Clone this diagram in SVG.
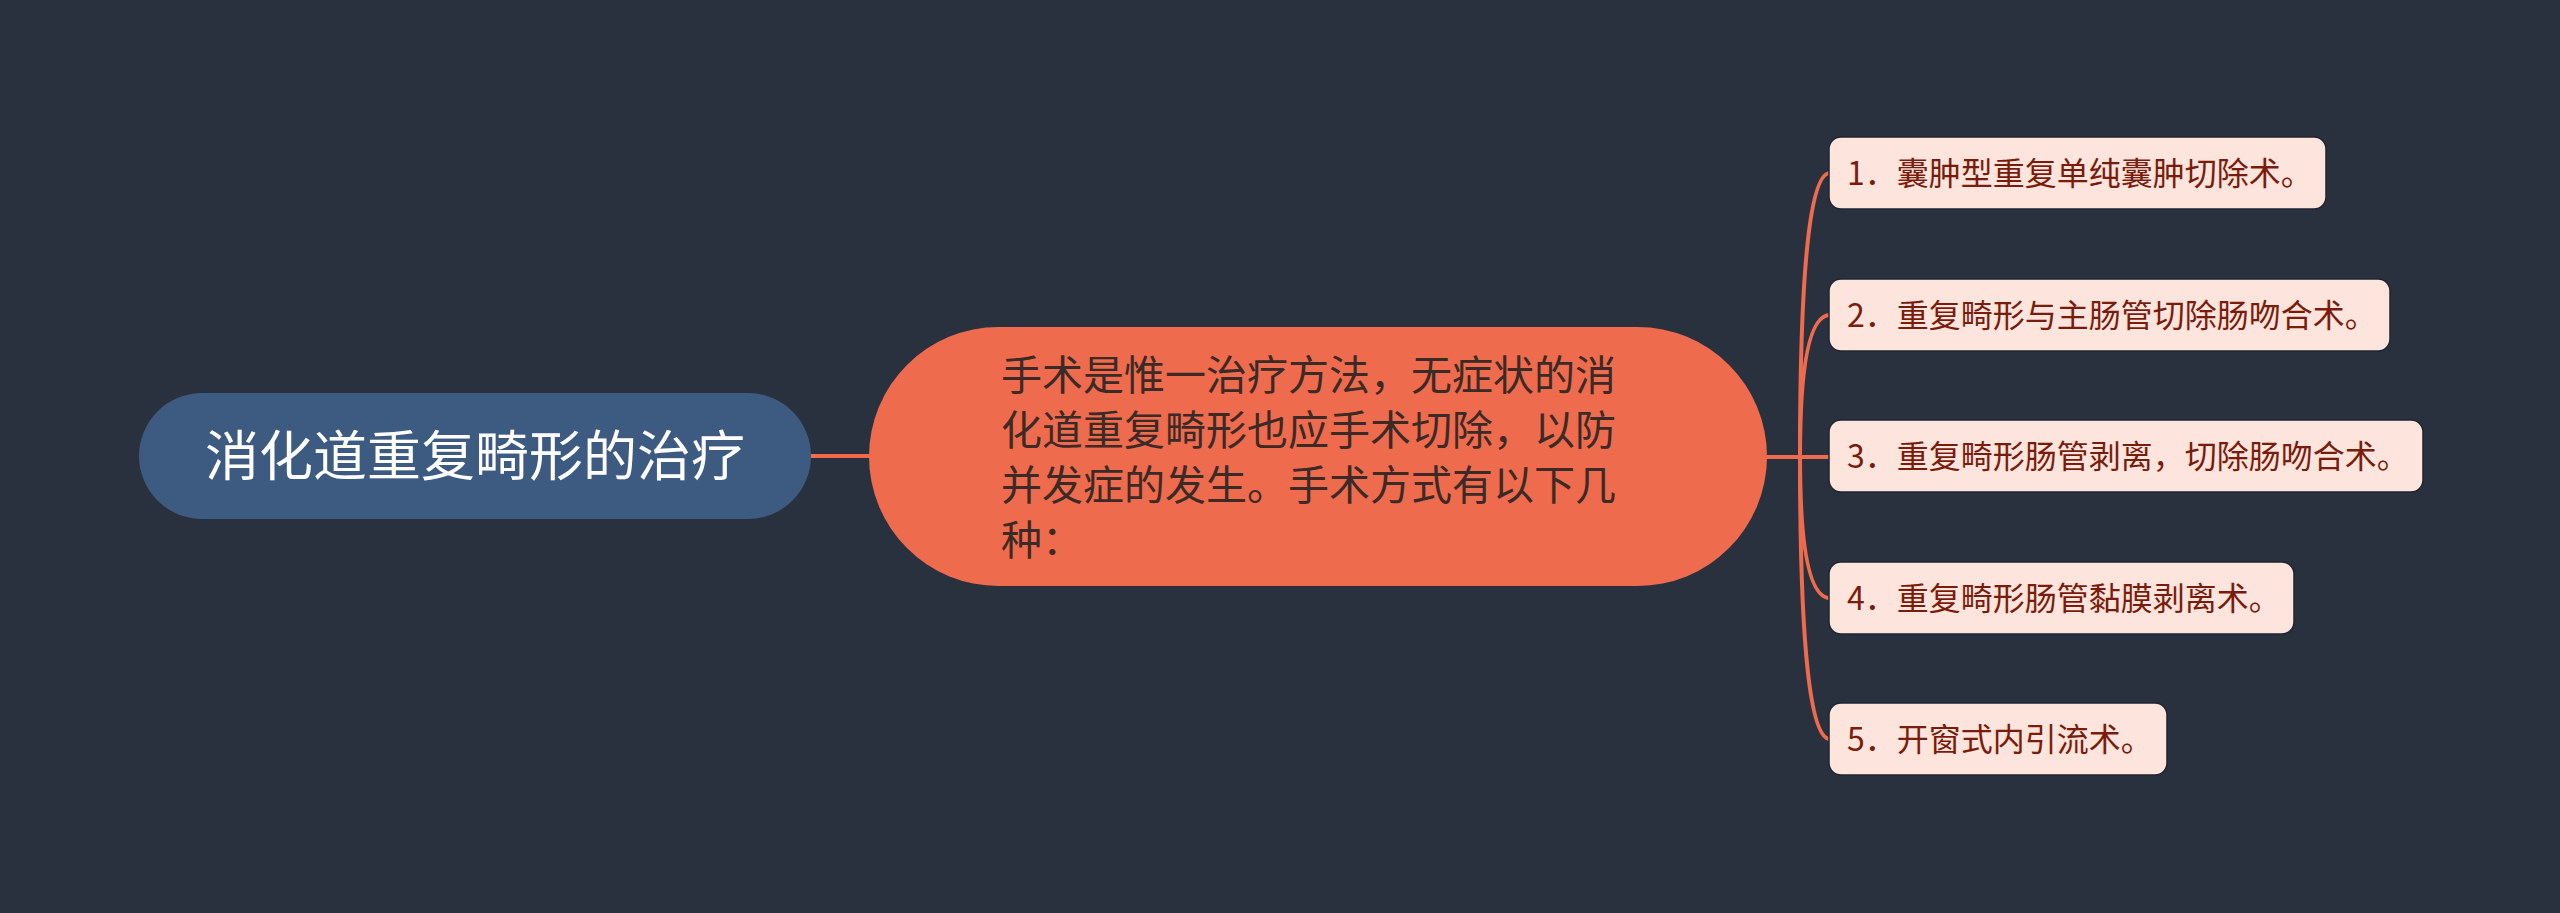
<svg xmlns="http://www.w3.org/2000/svg" width="2560" height="913" viewBox="0 0 2560 913">
<defs>
<style>
.bg{fill:#29313f}
.conn{fill:none;stroke:#ee6b4e;stroke-width:4;stroke-linecap:round}
.root{fill:#3d5a80}
.main{fill:#ee6b4d}
.leaf{fill:#fde4dd;stroke:#1e2430;stroke-width:1.5}
.t{font-family:"Noto Sans CJK SC","Noto Sans",sans-serif}
.rt{fill:#ffffff;font-size:54px}
.mt{fill:#3b2a26;font-size:41px}
.lt{fill:#7a1c0c;font-size:32px}
</style>
</defs>
<rect class="bg" x="0" y="0" width="2560" height="913"/>
<g id="connectors">
<line class="conn" x1="811" y1="456" x2="872" y2="456"/>
<line class="conn" x1="1766" y1="457" x2="1830" y2="457"/>
<path class="conn" d="M1800 457 Q1800 173 1830 173"/>
<path class="conn" d="M1800 457 Q1800 315 1830 315"/>
<path class="conn" d="M1800 457 Q1800 598 1830 598"/>
<path class="conn" d="M1800 457 Q1800 739 1830 739"/>
</g>
<g id="root">
<rect class="root" x="139" y="393" width="672" height="126" rx="63"/>
<text class="t rt" x="475" y="476" text-anchor="middle">消化道重复畸形的治疗</text>
</g>
<g id="main">
<rect class="main" x="869" y="327" width="898" height="259" rx="129.5"/>
<text class="t mt" x="1001" y="390">手术是惟一治疗方法，无症状的消</text>
<text class="t mt" x="1001" y="445">化道重复畸形也应手术切除，以防</text>
<text class="t mt" x="1001" y="500">并发症的发生。手术方式有以下几</text>
<text class="t mt" x="1001" y="555">种：</text>
</g>
<g id="leaf1">
<rect class="leaf" x="1829" y="137" width="497" height="72" rx="12"/>
<text class="t lt" x="1847" y="185">1．囊肿型重复单纯囊肿切除术。</text>
</g>
<g id="leaf2">
<rect class="leaf" x="1829" y="279" width="561" height="72" rx="12"/>
<text class="t lt" x="1847" y="327">2．重复畸形与主肠管切除肠吻合术。</text>
</g>
<g id="leaf3">
<rect class="leaf" x="1829" y="420" width="594" height="72" rx="12"/>
<text class="t lt" x="1847" y="468">3．重复畸形肠管剥离，切除肠吻合术。</text>
</g>
<g id="leaf4">
<rect class="leaf" x="1829" y="562" width="465" height="72" rx="12"/>
<text class="t lt" x="1847" y="610">4．重复畸形肠管黏膜剥离术。</text>
</g>
<g id="leaf5">
<rect class="leaf" x="1829" y="703" width="338" height="72" rx="12"/>
<text class="t lt" x="1847" y="751">5．开窗式内引流术。</text>
</g>
</svg>
